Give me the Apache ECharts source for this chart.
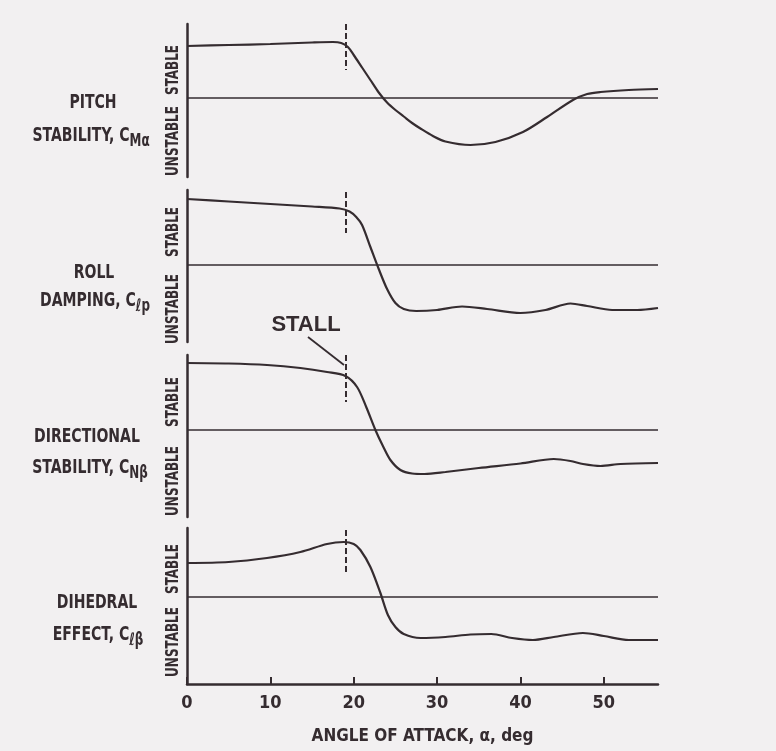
<!DOCTYPE html>
<html>
<head>
<meta charset="utf-8">
<script src="https://cdn.jsdelivr.net/npm/echarts@6/dist/echarts.min.js"></script>
<style>
  html, body { margin: 0; padding: 0; background: #f2f0f1; }
  #chart { width: 776px; height: 751px; }
</style>
</head>
<body>
<div id="chart"></div>
<script>
// Angle-of-attack axis
const alphaTicks = [0, 10, 20, 30, 40, 50];
const alphaMax = 56.5;
const stallAlpha = 19;

// Stability derivatives vs angle of attack (positive = stable), [alpha, value]
const pitchStability = [
  [0, 5.2], [5, 5.3], [10, 5.4], [15, 5.55], [17.5, 5.6], [18.5, 5.5], [19.3, 5.1],
  [20, 4.3], [21, 3.05], [22, 1.8], [23, 0.55], [24, -0.45], [25, -1.2], [26, -1.85],
  [27, -2.5], [28, -3.05], [29.5, -3.8], [31, -4.35], [34, -4.7], [37, -4.4],
  [40.3, -3.4], [43.2, -1.9], [46.3, -0.2], [48, 0.4], [49.6, 0.6], [53, 0.8], [56.5, 0.9]
];
const rollDamping = [
  [0, 6.6], [5, 6.35], [10, 6.1], [15, 5.85], [18.3, 5.65], [19.5, 5.35], [20.3, 4.8],
  [21, 4.0], [22, 1.8], [23, -0.4], [24, -2.4], [25, -3.8], [26, -4.4], [27.5, -4.6],
  [30, -4.5], [33, -4.15], [36, -4.4], [40, -4.8], [43, -4.5], [46, -3.85], [48, -4.1],
  [51, -4.5], [54, -4.5], [56.5, -4.3]
];
const directionalStability = [
  [0, 6.7], [5, 6.65], [9.6, 6.5], [13.6, 6.2], [16.8, 5.8], [19, 5.4], [20.4, 4.3],
  [21.5, 2.3], [22.6, 0], [23.5, -1.6], [24.4, -3.0], [25.6, -4.0], [27, -4.35],
  [28.5, -4.4], [31, -4.2], [35, -3.8], [40, -3.35], [44, -2.9], [46, -3.1],
  [47.5, -3.4], [49.6, -3.6], [52, -3.4], [56.5, -3.3]
];
const dihedralEffect = [
  [0, 3.4], [5, 3.5], [9.6, 3.9], [13.6, 4.5], [16.8, 5.3], [18.8, 5.5], [20, 5.3],
  [20.8, 4.7], [22, 3.0], [23.2, 0.4], [24.1, -1.8], [25, -3.0], [26, -3.7], [28, -4.1],
  [31, -4.0], [34, -3.75], [36.5, -3.7], [39, -4.1], [41.5, -4.3], [44, -4.0],
  [47.5, -3.6], [50, -3.9], [53, -4.3], [56.5, -4.3]
];

// Value range of each panel's vertical scale, and extent of the stall marker
const yRanges = [[-7.9, 7.4], [-7.7, 7.5], [-8.7, 7.5], [-8.7, 6.9]];
const stallMarks = [[7.4, 2.8], [7.3, 3.2], [7.5, 2.8], [6.7, 2.5]];

const INK = '#352c30';
const FONT = "'DejaVu Sans Condensed','Liberation Sans Narrow',sans-serif";

const panels = [
  { data: pitchStability,       top: 24,  height: 153 },
  { data: rollDamping,          top: 190, height: 152 },
  { data: directionalStability, top: 355, height: 162 },
  { data: dihedralEffect,       top: 528, height: 156 }
];

const grids = [], xAxes = [], yAxes = [], series = [];
panels.forEach((p, i) => {
  const last = i === panels.length - 1;
  grids.push({ left: 187, width: 471, top: p.top, height: p.height });
  xAxes.push({
    gridIndex: i, type: 'value', min: 0, max: alphaMax,
    show: last,
    name: last ? 'ANGLE OF ATTACK, α, deg' : '',
    nameLocation: 'middle', nameGap: 44,
    nameTextStyle: { color: INK, fontFamily: FONT, fontWeight: 'bold', fontSize: 17 },
    axisLine: { show: true, onZero: false, lineStyle: { color: INK, width: 2.5 } },
    axisTick: { show: true, inside: true, length: 7, customValues: alphaTicks, lineStyle: { color: INK, width: 2 } },
    axisLabel: { show: true, customValues: alphaTicks, margin: 10, color: INK, fontFamily: FONT, fontWeight: 'bold', fontSize: 18 },
    splitLine: { show: false }
  });
  yAxes.push({
    gridIndex: i, type: 'value', min: yRanges[i][0], max: yRanges[i][1],
    axisLine: { show: true, onZero: false, lineStyle: { color: INK, width: 2.5 } },
    axisTick: { show: false }, axisLabel: { show: false }, splitLine: { show: false }
  });
  series.push({
    type: 'line', xAxisIndex: i, yAxisIndex: i,
    data: p.data, symbol: 'none', smooth: 0.3,
    lineStyle: { color: INK, width: 2.2 },
    markLine: {
      silent: true, symbol: ['none', 'none'], label: { show: false },
      data: [
        { yAxis: 0, lineStyle: { color: INK, width: 1.7, type: 'solid' } },
        [
          { coord: [stallAlpha, stallMarks[i][0]], lineStyle: { color: INK, width: 2, type: [6, 3] } },
          { coord: [stallAlpha, stallMarks[i][1]], lineStyle: { color: INK, width: 2, type: [6, 3] } }
        ]
      ]
    }
  });
});

// Panel titles on the left, with subscripted coefficient symbols (narrowed lettering)
const titleRich = {
  n: { fontFamily: FONT, fontWeight: 'bold', fontSize: 20, fill: INK, color: INK },
  s: { fontFamily: FONT, fontWeight: 'bold', fontSize: 17, fill: INK, color: INK, padding: [12, 0, 0, 0] }
};
function title(x, y, text) {
  return {
    type: 'text', x, y, scaleX: 0.78,
    style: { text, rich: titleRich, align: 'center', verticalAlign: 'middle', fill: INK }
  };
}
function vlabel(x, y, text) {
  return {
    type: 'text', x, y, rotation: Math.PI / 2, scaleX: 0.74,
    style: { text, align: 'center', verticalAlign: 'middle', fill: INK, fontFamily: FONT, fontWeight: 'bold', fontSize: 18 }
  };
}

const graphics = [
  title(93, 103, '{n|PITCH}'),
  title(91, 136, '{n|STABILITY, C}{s|Mα}'),
  title(94, 273, '{n|ROLL}'),
  title(95, 301, '{n|DAMPING, C}{s|ℓp}'),
  title(87, 437, '{n|DIRECTIONAL}'),
  title(90, 468, '{n|STABILITY, C}{s|Nβ}'),
  title(97, 603, '{n|DIHEDRAL}'),
  title(98, 635, '{n|EFFECT, C}{s|ℓβ}'),

  vlabel(173, 70, 'STABLE'),   vlabel(173, 141, 'UNSTABLE'),
  vlabel(173, 232, 'STABLE'),  vlabel(173, 309, 'UNSTABLE'),
  vlabel(173, 402, 'STABLE'),  vlabel(173, 481, 'UNSTABLE'),
  vlabel(173, 569, 'STABLE'),  vlabel(173, 642, 'UNSTABLE'),

  {
    type: 'text', x: 306, y: 325,
    style: { text: 'STALL', align: 'center', verticalAlign: 'middle', fill: INK,
             fontFamily: "'Liberation Sans','DejaVu Sans',sans-serif", fontWeight: 'bold', fontSize: 22 }
  },
  {
    type: 'line', shape: { x1: 308, y1: 337, x2: 344, y2: 365 },
    style: { stroke: INK, lineWidth: 1.8 }
  }
];

const chart = echarts.init(document.getElementById('chart'), null, { renderer: 'canvas' });
chart.setOption({
  backgroundColor: '#f2f0f1',
  animation: false,
  grid: grids,
  xAxis: xAxes,
  yAxis: yAxes,
  series,
  graphic: graphics
});
</script>
</body>
</html>
